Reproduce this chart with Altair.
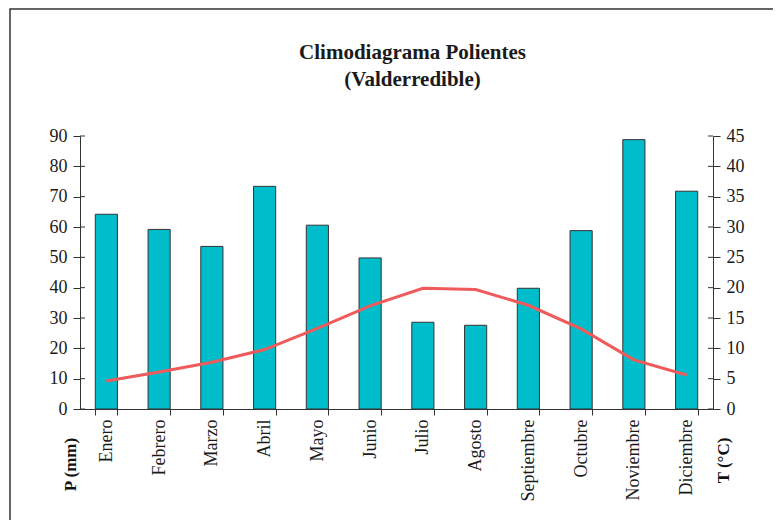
import altair as alt
import pandas as pd

meses = ["Enero", "Febrero", "Marzo", "Abril", "Mayo", "Junio", "Julio",
         "Agosto", "Septiembre", "Octubre", "Noviembre", "Diciembre"]
precip = [64.2, 59.2, 53.6, 73.4, 60.6, 49.8, 28.6, 27.6, 39.8, 58.8, 88.8, 71.8]
temp = [4.6, 6.1, 7.7, 9.8, 13.3, 17.0, 19.9, 19.7, 17.1, 13.2, 8.1, 5.6]
p_ticks = list(range(0, 91, 10))
t_ticks = list(range(0, 46, 5))
titulo = ["Climodiagrama Polientes", "(Valderredible)"]

df = pd.DataFrame({"mes": meses, "P": precip, "T": temp})

FONT = "Liberation Serif"
W, H = 633, 273

xenc = alt.X("mes:N", sort=meses,
             scale=alt.Scale(paddingInner=0.58, paddingOuter=0.29),
             axis=alt.Axis(title=None, labelAngle=270, labelAlign="right",
                           labelBaseline="middle", labelFontSize=18,
                           labelPadding=4, tickBand="extent", tickSize=6,
                           labelFont=FONT, labelColor="#1a1a1a",
                           domainColor="#333", tickColor="#333"))

bars = alt.Chart(df).mark_bar(color="#00BDCB", stroke="#333", strokeWidth=1).encode(
    x=xenc,
    y=alt.Y("P:Q", scale=alt.Scale(domain=[0, 90], nice=False),
            axis=alt.Axis(values=p_ticks, title="P (mm)",
                          titleFont=FONT, titleFontSize=17, titleFontWeight="bold",
                          titleAngle=270, titleAlign="center", titleBaseline="middle",
                          titleX=-10, titleY=328, titleColor="#111",
                          labelFont=FONT, labelFontSize=18, labelColor="#1a1a1a",
                          tickSize=7, labelPadding=6, grid=False,
                          domainColor="#333", tickColor="#333")),
)

frame = alt.Chart(pd.DataFrame({"a": [0]})).mark_rect(
    fill=None, stroke="#333", strokeWidth=1.5
).encode(
    x=alt.value(-70), x2=alt.value(800), y=alt.value(-127), y2=alt.value(500)
)

title_df = pd.DataFrame({"t": titulo, "i": [0, 1]})
title_marks = alt.Chart(title_df).mark_text(
    font=FONT, fontSize=21, fontWeight="bold", color="#1a1a1a",
    align="center", baseline="middle"
).encode(
    text="t:N",
    x=alt.value(W / 2 + 16),
    y=alt.Y("i:Q", scale=alt.Scale(domain=[0, 1], range=[-83, -56]), axis=None),
)

pt = alt.Chart(pd.DataFrame({"v": p_ticks})).mark_rule(color="#333", strokeWidth=1).encode(
    y=alt.Y("v:Q", scale=alt.Scale(domain=[0, 90], nice=False), axis=None),
    x=alt.value(0), x2=alt.value(5),
)
tt = alt.Chart(pd.DataFrame({"v": t_ticks})).mark_rule(color="#333", strokeWidth=1).encode(
    y=alt.Y("v:Q", scale=alt.Scale(domain=[0, 45], nice=False), axis=None),
    x=alt.value(W - 5), x2=alt.value(W),
)

line = alt.Chart(df).mark_line(color="#F05A5A", strokeWidth=3).encode(
    x=alt.X("mes:N", sort=meses),
    y=alt.Y("T:Q", scale=alt.Scale(domain=[0, 45], nice=False),
            axis=alt.Axis(orient="right", values=t_ticks, title="T (°C)",
                          titleFont=FONT, titleFontSize=17, titleFontWeight="bold",
                          titleAngle=270, titleAlign="center", titleBaseline="middle",
                          titleX=10, titleY=324, titleColor="#111",
                          labelFont=FONT, labelFontSize=18, labelColor="#1a1a1a",
                          tickSize=7, labelPadding=6, grid=False,
                          domainColor="#333", tickColor="#333")),
)

chart = alt.layer(frame, bars, line, pt, tt, title_marks).resolve_scale(y="independent").properties(
    width=W, height=H,
    background="white",
    autosize=alt.AutoSizeParams(type="none"),
    padding={"left": 72, "top": 128, "right": 60, "bottom": 111},
).configure_view(stroke=None).configure_axis(grid=False, labelFont=FONT, titleFont=FONT)

chart.save("out.html", embed_options={"renderer": "svg", "actions": False})
